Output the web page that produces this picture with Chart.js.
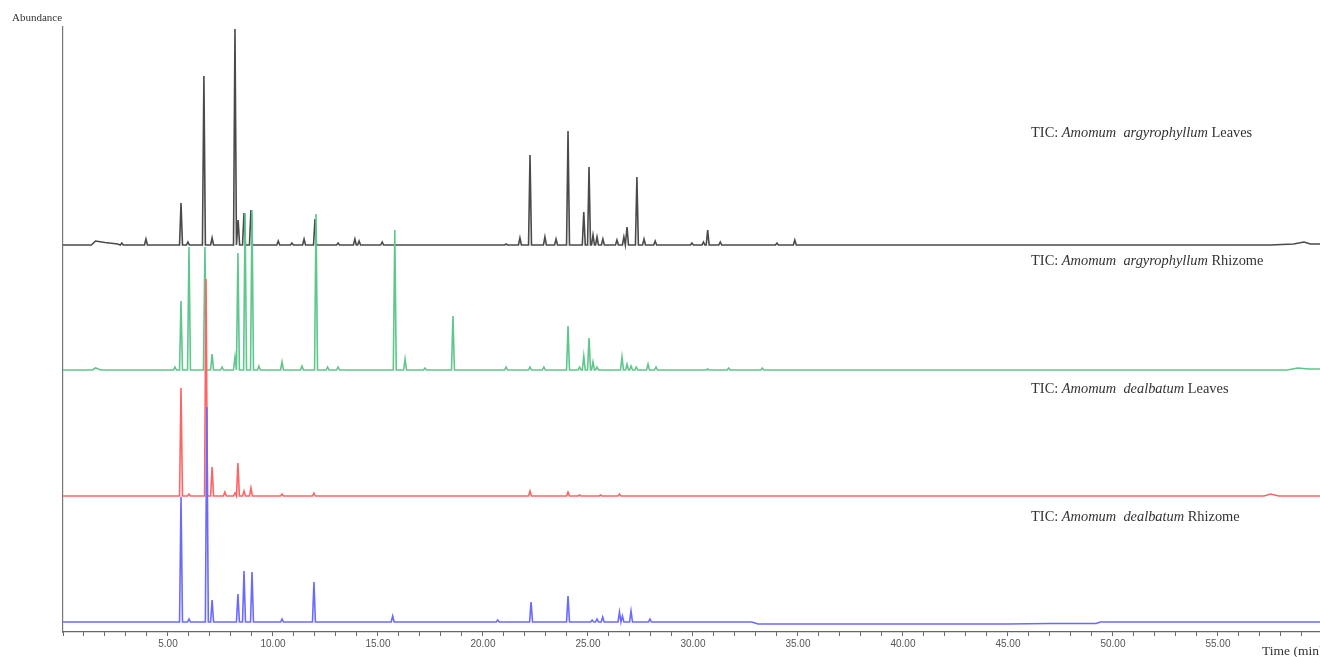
<!DOCTYPE html>
<html>
<head>
<meta charset="utf-8">
<script src="https://cdn.jsdelivr.net/npm/chart.js@4"></script>
<style>
  body { margin: 0; background: #fff; }
  #wrap { width: 1320px; height: 657px; position: relative; }
</style>
</head>
<body>
<div id="wrap"><canvas id="tic"></canvas></div>
<script>
// retention times (min) and peak heights (abundance, arbitrary units)
const seriesNames = ["Amomum argyrophyllum", "Amomum argyrophyllum", "Amomum dealbatum", "Amomum dealbatum"];
const seriesParts = ["Leaves", "Rhizome", "Leaves", "Rhizome"];
const seriesColors = ["#4a4a4a", "#5ec78c", "#ff6464", "#6a6aff"];
const baselineLevel = [387, 262, 136, 10];   // where each trace sits in the stack

const leavesArgyPeaks = [
  [2.8, 2], [3.95, 6], [5.62, 42], [5.95, 3], [6.71, 169], [7.1, 7], [8.19, 216], [8.34, 25],
  [8.62, 32], [8.95, 35], [10.25, 4], [10.9, 2], [11.48, 6], [12.0, 26], [13.1, 2], [13.9, 6],
  [14.1, 4], [15.2, 3], [21.1, 1], [21.76, 7], [22.24, 90], [22.95, 8], [23.48, 6], [24.05, 114],
  [24.8, 33], [25.05, 78], [25.24, 10], [25.43, 8], [25.71, 6], [26.38, 5], [26.71, 8], [26.86, 18],
  [27.33, 68], [27.67, 6], [28.2, 4], [29.95, 2], [30.5, 3], [30.7, 15], [31.3, 3], [34.0, 2], [34.85, 5]
];
const leavesArgyBase = [[0, 0], [1.35, 0], [1.55, 4], [2.0, 2.5], [2.6, 1], [3.1, 0], [57.5, 0], [58.6, 1], [59.1, 3], [59.4, 1], [60, 1]];

const rhizomeArgyPeaks = [
  [5.33, 3], [5.62, 69], [6.0, 123], [6.76, 123], [7.1, 16], [7.57, 3], [8.19, 13], [8.33, 117],
  [8.67, 157], [9.0, 160], [9.33, 4], [10.43, 8], [11.38, 4], [12.05, 156], [12.6, 3], [13.1, 3],
  [15.8, 140], [16.29, 11], [17.24, 2], [18.57, 54], [21.1, 3], [22.24, 3], [22.9, 3], [24.05, 44],
  [24.6, 3], [24.8, 14], [25.05, 32], [25.24, 8], [25.43, 3], [26.62, 13], [26.86, 6], [27.05, 4],
  [27.3, 3], [27.86, 6], [28.24, 3], [30.7, 1], [31.7, 2], [33.3, 2]
];
const rhizomeArgyBase = [[0, 0], [1.4, 0], [1.55, 2], [1.8, 0], [58.3, 0], [58.8, 2], [59.3, 1], [60, 1]];

const leavesDealPeaks = [
  [5.62, 108], [6.0, 2], [6.81, 217], [7.1, 29], [7.71, 4], [8.19, 3], [8.33, 33], [8.62, 5],
  [8.95, 8], [10.43, 2], [11.95, 3], [22.24, 5], [24.05, 4], [24.6, 1], [25.6, 1], [26.5, 2]
];
const leavesDealBase = [[0, 0], [57.2, 0], [57.5, 2], [57.9, 0], [60, 0]];

const rhizomeDealPeaks = [
  [5.62, 125], [6.0, 3], [6.85, 215], [7.1, 22], [8.33, 28], [8.62, 51], [9.0, 50], [10.43, 3],
  [11.95, 40], [15.7, 6], [20.7, 2], [22.29, 20], [24.05, 26], [25.2, 2], [25.43, 3], [25.7, 5],
  [26.5, 10], [26.64, 6], [27.05, 11], [27.95, 3]
];
const rhizomeDealBase = [[0, 0], [32.8, 0], [33.1, -2], [45, -2], [47, -1.5], [49.2, -1.5], [49.4, 0], [60, 0]];

const allPeaks = [leavesArgyPeaks, rhizomeArgyPeaks, leavesDealPeaks, rhizomeDealPeaks];
const allBases = [leavesArgyBase, rhizomeArgyBase, leavesDealBase, rhizomeDealBase];

const halfWidth = 0.07;
const labelRise = [112, 109, 107, 105];

function tracePoints(peaks, base, offset) {
  let pts = base.slice();
  peaks.forEach(p => {
    pts.push([p[0] - halfWidth, 0]);
    pts.push([p[0], p[1]]);
    pts.push([p[0] + halfWidth, 0]);
  });
  pts.sort((a, b) => a[0] - b[0]);
  return pts.map(p => ({ x: p[0], y: p[1] + offset }));
}

const datasets = allPeaks.map((peaks, i) => ({
  label: seriesNames[i] + " " + seriesParts[i],
  data: tracePoints(peaks, allBases[i], baselineLevel[i]),
  borderColor: seriesColors[i],
  borderWidth: 1.6,
  pointRadius: 0,
  tension: 0,
  order: 3 - i,
  clip: false
}));

const textPlugin = {
  id: "ticText",
  afterDraw(chart) {
    const ctx = chart.ctx;
    const xs = chart.scales.x, ys = chart.scales.y;
    ctx.save();
    ctx.fillStyle = "#333";
    ctx.textBaseline = "middle";
    ctx.font = "11px 'Liberation Serif'";
    ctx.fillText("Abundance", 12, 18);
    ctx.font = "13.5px 'Liberation Serif'";
    ctx.fillText("Time (min)", 1262, 651);

    seriesNames.forEach((name, i) => {
      let x = xs.getPixelForValue(46.1);
      let y = ys.getPixelForValue(baselineLevel[i] + labelRise[i]);
      const parts = [["TIC: ", false], [name.replace(" ", "  "), true], [" " + seriesParts[i], false]];
      parts.forEach(pt => {
        ctx.font = (pt[1] ? "italic " : "") + "14.4px 'Liberation Serif'";
        ctx.fillStyle = "#333";
        ctx.fillText(pt[0], x, y);
        x += ctx.measureText(pt[0]).width;
      });
    });
    ctx.restore();
  }
};

new Chart(document.getElementById("tic"), {
  type: "line",
  data: { datasets: datasets },
  options: {
    responsive: true,
    maintainAspectRatio: false,
    animation: false,
    layout: { padding: { left: 63, top: 27, right: 0, bottom: 0 } },
    plugins: { legend: { display: false }, tooltip: { enabled: false } },
    scales: {
      x: {
        type: "linear",
        min: 0,
        max: 59.86,
        afterFit(s) { s.height = 25; },
        grid: { drawOnChartArea: false, tickLength: 4, color: "#666" },
        border: { color: "#666", width: 1.2 },
        ticks: {
          stepSize: 1,
          autoSkip: false,
          includeBounds: false,
          maxRotation: 0,
          padding: 2,
          color: "#555",
          font: { family: "'Liberation Sans'", size: 10 },
          callback: v => (v > 0 && v % 5 === 0) ? v.toFixed(2) : ""
        }
      },
      y: {
        min: 0,
        max: 605,
        afterFit(s) { s.width = 0; },
        grid: { display: false },
        border: { color: "#777", width: 1.2 },
        ticks: { display: false }
      }
    }
  },
  plugins: [textPlugin]
});
</script>
</body>
</html>
